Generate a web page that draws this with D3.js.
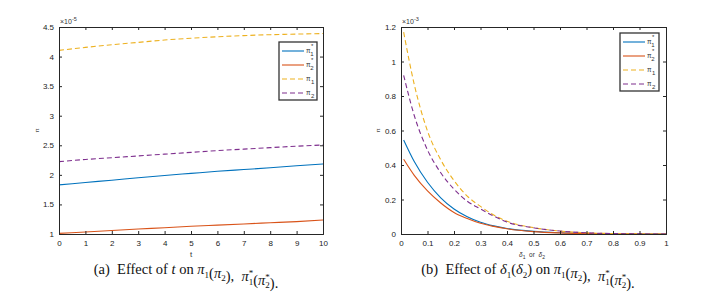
<!DOCTYPE html>
<html><head><meta charset="utf-8">
<script src="https://cdn.jsdelivr.net/npm/d3@7/dist/d3.min.js"></script>
<style>body{margin:0;background:#fff}svg{display:block}text{white-space:pre}</style>
</head><body>
<svg id="c" width="710" height="294"></svg>
<script>
// Panel (a): effect of t
const tVals = [0,1,2,3,4,5,6,7,8,9,10];
const aPi1Star = [1.83,1.87,1.91,1.95,1.99,2.025,2.06,2.09,2.12,2.155,2.185];
const aPi2Star = [1.01,1.035,1.06,1.085,1.105,1.13,1.15,1.17,1.19,1.21,1.237];
const aPi1 = [4.105,4.155,4.20,4.24,4.28,4.31,4.335,4.355,4.37,4.38,4.39];
const aPi2 = [2.223,2.26,2.29,2.32,2.35,2.38,2.41,2.435,2.46,2.485,2.505];
const aXTicks = [0,1,2,3,4,5,6,7,8,9,10];
const aYTicks = [1,1.5,2,2.5,3,3.5,4,4.5];
// Panel (b): effect of delta
const dVals = [0.01,0.05,0.1,0.15,0.2,0.25,0.3,0.35,0.4,0.5,0.6,0.7,0.8,0.9,1.0];
const bPi1Star = [0.545,0.42,0.30,0.21,0.145,0.10,0.068,0.047,0.032,0.015,0.007,0.003,0.001,0.0003,0];
const bPi2Star = [0.433,0.34,0.25,0.18,0.125,0.09,0.062,0.044,0.030,0.014,0.0065,0.003,0.001,0.0003,0];
const bPi1 = [1.17,0.867,0.597,0.43,0.31,0.22,0.16,0.11,0.074,0.037,0.017,0.007,0.0025,0.0006,0];
const bPi2 = [0.92,0.687,0.487,0.355,0.26,0.19,0.145,0.104,0.069,0.036,0.017,0.007,0.0025,0.0006,0];
const bXTicks = [0,0.1,0.2,0.3,0.4,0.5,0.6,0.7,0.8,0.9,1];
const bYTicks = [0,0.2,0.4,0.6,0.8,1,1.2];

const colors = ["#0072BD","#D95319","#EDB120","#7E2F8E"];
const dashes = [null,null,"5,3","5,3"];
const legendNames = [["1",true],["2",true],["1",false],["2",false]];

const svg = d3.select("#c");
const AX = "#262626";
const SANS = "'Liberation Sans', Arial, sans-serif";
const SERIF = "'Liberation Serif', 'Times New Roman', serif";

function panel(o){
  const g = svg.append("g");
  const x = d3.scaleLinear().domain(o.xd).range([o.l,o.r]);
  const y = d3.scaleLinear().domain(o.yd).range([o.b,o.t]);
  o.series.forEach((s,i)=>{
    const line = d3.line().x((d,j)=>x(o.xs[j])).y(d=>y(d)).curve(d3.curveMonotoneX);
    g.append("path").attr("d",line(s)).attr("fill","none")
      .attr("stroke",colors[i]).attr("stroke-width",1.1)
      .attr("stroke-dasharray",dashes[i]);
  });
  const tl = 3;
  const bottom = d3.axisBottom(x).tickValues(o.xt).tickSize(-tl).tickPadding(6).tickFormat(d3.format("~g"));
  const top = d3.axisTop(x).tickValues(o.xt).tickSize(-tl).tickFormat("");
  const left = d3.axisLeft(y).tickValues(o.yt).tickSize(-tl).tickPadding(5).tickFormat(d3.format("~g"));
  const right = d3.axisRight(y).tickValues(o.yt).tickSize(-tl).tickFormat("");
  const axs = [
    g.append("g").attr("transform",`translate(0,${o.b})`).call(bottom),
    g.append("g").attr("transform",`translate(0,${o.t})`).call(top),
    g.append("g").attr("transform",`translate(${o.l},0)`).call(left),
    g.append("g").attr("transform",`translate(${o.r},0)`).call(right)
  ];
  axs.forEach(a=>{
    a.select(".domain").attr("stroke",AX).attr("stroke-width",1);
    a.selectAll(".tick line").attr("stroke",AX);
    a.selectAll("text").attr("fill","#222").style("font-family",SANS).style("font-size","8px");
  });
  const ex = g.append("text").attr("x",o.l+1).attr("y",o.t-3).attr("fill","#333")
    .style("font-family",SANS).style("font-size","7px").text("\u00d710");
  ex.append("tspan").attr("dy",-3).style("font-size","5.5px").text(o.exp);
  g.append("text").attr("x",o.yl).attr("y",(o.t+o.b)/2).attr("fill","#333")
    .attr("text-anchor","middle").attr("transform",`rotate(-90,${o.yl},${(o.t+o.b)/2})`)
    .style("font-family",SANS).style("font-size","6px").text("\u03c0");
  o.xlabel(g);
  const L = o.leg;
  g.append("rect").attr("x",L.x).attr("y",L.y).attr("width",L.w).attr("height",L.h)
    .attr("fill","#fff").attr("stroke","#333").attr("stroke-width",1.3);
  legendNames.forEach((n,i)=>{
    const yy = L.y + L.y0 + i*L.dy;
    g.append("line").attr("x1",L.x+3).attr("x2",L.x+L.lw).attr("y1",yy).attr("y2",yy)
      .attr("stroke",colors[i]).attr("stroke-width",1.1).attr("stroke-dasharray",dashes[i]);
    const tx = g.append("text").attr("x",L.x+L.lw+2).attr("y",yy+1.5).attr("fill","#333")
      .style("font-family",SANS).style("font-size","6.5px").text("\u03c0");
    if(n[1]){
      tx.append("tspan").attr("dy",-5).attr("dx",0.5).style("font-size","6px").text("*");
      tx.append("tspan").attr("dy",8.5).attr("dx",-3.2).style("font-size","6px").text(n[0]);
    } else {
      tx.append("tspan").attr("dy",3.5).attr("dx",0.5).style("font-size","6px").text(n[0]);
    }
  });
  o.caption(g);
}

function capPi(t, sub, star){
  t.append("tspan").style("font-style","italic").text("\u03c0");
  if(star){
    t.append("tspan").attr("dy",-5).style("font-size","9px").text("*");
    t.append("tspan").attr("dy",8.5).attr("dx",-4.5).style("font-size","9px").text(sub);
    t.append("tspan").attr("dy",-3.5).text("");
  } else {
    t.append("tspan").attr("dy",3.5).style("font-size","9px").text(sub);
    t.append("tspan").attr("dy",-3.5).text("");
  }
}
function capTail(t){
  t.append("tspan").text(" on ");
  capPi(t,"1",false); t.append("tspan").text("(");
  capPi(t,"2",false); t.append("tspan").text("),  ");
  capPi(t,"1",true); t.append("tspan").text("(");
  capPi(t,"2",true); t.append("tspan").text(").");
}

panel({
  l:59,r:323,t:27,b:234, xd:[0,10], yd:[1,4.5], xs:tVals,
  xt:aXTicks, yt:aYTicks, exp:"-5", yl:39,
  series:[aPi1Star,aPi2Star,aPi1,aPi2],
  leg:{x:279,y:42,w:38,h:58,y0:9,dy:14,lw:25},
  xlabel:g=>g.append("text").attr("x",191).attr("y",257).attr("text-anchor","middle")
    .attr("fill","#333").style("font-family",SANS).style("font-size","8px").text("t"),
  caption:g=>{
    const t = g.append("text").attr("x",186).attr("y",274).attr("text-anchor","middle")
      .attr("fill","#111").style("font-family",SERIF).style("font-size","14.5px");
    t.append("tspan").text("(a)  Effect of ");
    t.append("tspan").style("font-style","italic").text("t");
    capTail(t);
  }
});

panel({
  l:401,r:666,t:27,b:234, xd:[0,1], yd:[0,1.2], xs:dVals,
  xt:bXTicks, yt:bYTicks, exp:"-3", yl:380,
  series:[bPi1Star,bPi2Star,bPi1,bPi2],
  leg:{x:620,y:33,w:39,h:58,y0:9,dy:14,lw:25},
  xlabel:g=>{
    const t = g.append("text").attr("x",532).attr("y",257).attr("text-anchor","middle")
      .attr("fill","#333").style("font-family",SANS).style("font-size","6.5px");
    t.append("tspan").style("font-style","italic").text("\u03b4");
    t.append("tspan").attr("dy",2).style("font-size","5px").text("1");
    t.append("tspan").attr("dy",-2).text("  or  ");
    t.append("tspan").style("font-style","italic").text("\u03b4");
    t.append("tspan").attr("dy",2).style("font-size","5px").text("2");
  },
  caption:g=>{
    const t = g.append("text").attr("x",528).attr("y",274).attr("text-anchor","middle")
      .attr("fill","#111").style("font-family",SERIF).style("font-size","14.5px");
    t.append("tspan").text("(b)  Effect of ");
    t.append("tspan").style("font-style","italic").text("\u03b4");
    t.append("tspan").attr("dy",3.5).style("font-size","9px").text("1");
    t.append("tspan").attr("dy",-3.5).text("(");
    t.append("tspan").style("font-style","italic").text("\u03b4");
    t.append("tspan").attr("dy",3.5).style("font-size","9px").text("2");
    t.append("tspan").attr("dy",-3.5).text(")");
    capTail(t);
  }
});
</script>
</body></html>
